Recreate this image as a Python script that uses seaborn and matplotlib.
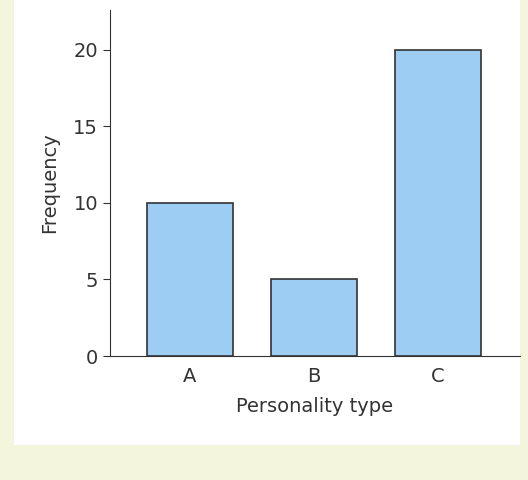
import matplotlib
matplotlib.use("Agg")
import matplotlib.pyplot as plt
import seaborn as sns
import pandas as pd

# data
types = ["A", "B", "C"]
freq = [10, 5, 20]

df = pd.DataFrame({"type": types, "freq": freq})

sns.set_style("ticks")
plt.rcParams['font.family'] = ['DejaVu Sans']

fig = plt.figure(figsize=(5.28, 4.8), dpi=100)
fig.patch.set_facecolor("#f3f5dd")
# white panel behind the chart
bg = fig.add_axes([14/528, 35/480, 506/528, 445/480], zorder=-1)
bg.set_facecolor("white")
bg.set_xticks([])
bg.set_yticks([])
for s in bg.spines.values():
    s.set_visible(False)

ax = fig.add_axes([110/528, 124/480, 410/528, 346/480], zorder=1)
ax.set_facecolor("none")
sns.barplot(data=df, x="type", y="freq", ax=ax, color="#9dcdf3",
            saturation=1, width=0.69, edgecolor="#333333", linewidth=1.2)

ax.set_xlim(-0.645, 2.66)
ax.set_ylim(0, 22.6)
ax.set_yticks([0, 5, 10, 15, 20])
ax.set_xlabel("Personality type", fontsize=14, color="#333333", labelpad=8)
ax.set_ylabel("Frequency", fontsize=14, color="#333333", labelpad=10)
ax.tick_params(axis="both", labelsize=14, colors="#333333", length=5)
ax.tick_params(axis="x", length=0, pad=8)
for s in ["top", "right"]:
    ax.spines[s].set_visible(False)
for s in ["left", "bottom"]:
    ax.spines[s].set_color("#333333")

fig.savefig("out.png", dpi=100, facecolor=fig.get_facecolor())
